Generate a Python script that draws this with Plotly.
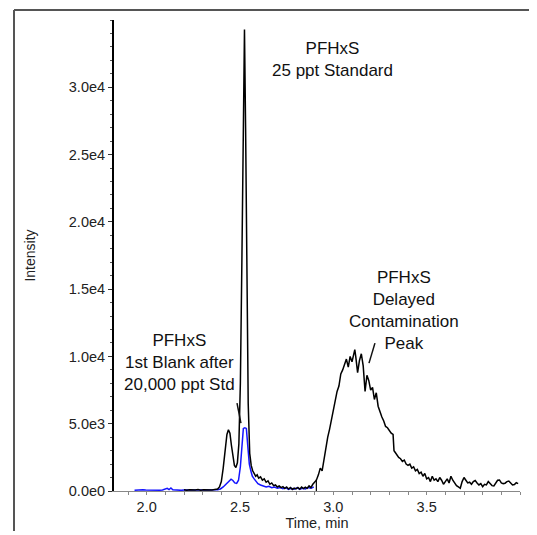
import plotly.graph_objects as go

# ---------------- data ----------------
# Blue trace: PFHxS, 1st blank after 20,000 ppt standard
blank_time = [1.935, 1.95, 1.965, 1.98, 1.995, 2.01, 2.025, 2.04, 2.055, 2.07, 2.085,
              2.10, 2.11, 2.12, 2.13, 2.14, 2.155, 2.17, 2.185, 2.20, 2.215, 2.23,
              2.245, 2.26, 2.275, 2.29, 2.305, 2.32, 2.335, 2.35, 2.365, 2.38, 2.395,
              2.41, 2.425, 2.44, 2.452, 2.462, 2.472, 2.482, 2.492, 2.502, 2.51,
              2.518, 2.526, 2.534, 2.542, 2.55, 2.558, 2.566, 2.576, 2.586, 2.596,
              2.61, 2.625, 2.64, 2.655, 2.67, 2.685, 2.70, 2.715, 2.73, 2.745, 2.76,
              2.775, 2.79, 2.805, 2.82, 2.835, 2.85, 2.865, 2.88, 2.895]
blank_int = [60, 80, 50, 90, 70, 60, 90, 50, 70, 60, 80,
             120, 200, 100, 220, 90, 60, 80, 50, 70, 60, 90,
             60, 70, 80, 60, 90, 70, 80, 60, 90, 100, 150,
             300, 500, 650, 880, 780, 600, 560, 800, 1800, 3500,
             4650, 4700, 4650, 3300, 2000, 1500, 1100, 900, 700, 550,
             450, 380, 300, 350, 250, 300, 200, 260, 180, 250, 120,
             200, 140, 230, 130, 200, 150, 250, 200, 300]

# Black trace: PFHxS 25 ppt standard followed by delayed contamination peak
std_time = [2.20, 2.215, 2.23, 2.245, 2.26, 2.275, 2.29, 2.305, 2.32, 2.335, 2.35,
            2.365, 2.38, 2.39, 2.40, 2.41, 2.42, 2.43, 2.438, 2.446, 2.454, 2.462,
            2.47, 2.478, 2.486, 2.494, 2.502, 2.51, 2.518, 2.524, 2.530, 2.537,
            2.544, 2.552, 2.56, 2.568, 2.576, 2.584, 2.592, 2.60, 2.61, 2.62, 2.63,
            2.64, 2.65, 2.66, 2.67, 2.68, 2.69, 2.70, 2.71, 2.72, 2.73, 2.74, 2.75,
            2.76, 2.77, 2.78, 2.79, 2.80, 2.81, 2.82, 2.83, 2.84, 2.85, 2.86, 2.87,
            2.88, 2.89, 2.90, 2.909, 2.92, 2.93, 2.94, 2.95, 2.96, 2.97, 2.98, 2.99,
            3.00, 3.01, 3.02, 3.03, 3.04, 3.05, 3.06, 3.07, 3.08, 3.09, 3.10, 3.11,
            3.115, 3.12, 3.13, 3.14, 3.15, 3.16, 3.17, 3.18, 3.19, 3.20, 3.21, 3.22,
            3.23, 3.24, 3.25, 3.26, 3.27, 3.28, 3.29, 3.30, 3.31, 3.32, 3.325, 3.33,
            3.34, 3.35, 3.36, 3.37, 3.38, 3.39, 3.40, 3.41, 3.42, 3.43, 3.44, 3.45,
            3.46, 3.47, 3.48, 3.49, 3.50, 3.51, 3.52, 3.53, 3.54, 3.55, 3.56, 3.57,
            3.58, 3.59, 3.60, 3.61, 3.62, 3.63, 3.64, 3.65, 3.66, 3.67, 3.68, 3.69,
            3.70, 3.71, 3.72, 3.73, 3.74, 3.75, 3.76, 3.77, 3.78, 3.79, 3.80, 3.81,
            3.82, 3.83, 3.84, 3.85, 3.86, 3.87, 3.88, 3.89, 3.90, 3.91, 3.92, 3.93,
            3.94, 3.95, 3.96, 3.97, 3.98, 3.99]
std_int = [90, 60, 100, 70, 80, 110, 60, 90, 80, 100, 70,
           110, 150, 300, 700, 1700, 3000, 4200, 4550, 4300, 3400, 2400,
           1900, 1750, 2100, 3500, 8000, 17000, 29000, 34300, 27000, 15000,
           6500, 2800, 1900, 1500, 1300, 1100, 1200, 950, 1050, 800, 900,
           650, 750, 500, 600, 400, 450, 300, 380, 250, 320, 180, 300,
           150, 260, 120, 220, 150, 260, 140, 300, 180, 280, 200, 380,
           250, 500, 650, 800, 1200, 1700, 1500, 2400, 3300, 4000, 4600, 5300,
           5900, 6800, 7400, 7800, 8700, 9000, 9400, 9800, 9200, 10000, 9600, 10400,
           10500, 10000, 8800, 9700, 10200, 9300, 7400, 8600, 8200, 7500, 7700, 6800,
           7300, 6300, 5800, 5500, 5200, 4800, 4700, 4500, 4300, 4200, 3000, 2900,
           2700, 2500, 2400, 2200, 2300, 2000, 1900, 2000, 1700, 1800, 1500, 1600,
           1300, 1400, 1100, 1300, 900, 1000, 700, 1100, 800, 900, 700, 1000,
           800, 500, 700, 900, 600, 1100, 800, 600, 400, 300, 200, 700,
           1000, 800, 600, 650, 500, 700, 780, 600, 450, 550, 320, 500,
           450, 700, 550, 400, 380, 650, 800, 820, 600, 550, 580, 700,
           740, 600, 450, 480, 620, 550]

# integration boundary marker drawn by the software
marker_time = [2.909, 2.909]
marker_int = [0, 850]

# cursor indicator on the y axis
cursor_time = [1.798]
cursor_int = [34150]

x_tickvals = [2.0, 2.5, 3.0, 3.5]
x_ticktext = ["2.0", "2.5", "3.0", "3.5"]
y_tickvals = [0, 5000, 10000, 15000, 20000, 25000, 30000]
y_ticktext = ["0.0e0", "5.0e3", "1.0e4", "1.5e4", "2.0e4", "2.5e4", "3.0e4"]

labels = ["PFHxS<br>25 ppt Standard",
          "PFHxS<br>Delayed<br>Contamination<br>Peak",
          "PFHxS<br>1st Blank after<br>20,000 ppt Std"]
label_time = [2.998, 3.378, 2.178]
label_int = [32100, 13450, 9550]

pointer_time = [[2.484, 2.505], [3.223, 3.191]]
pointer_int = [[6530, 5050], [10990, 9500]]

# ---------------- figure ----------------
# the page body has an 8px default margin; the figure is sized so that it fits
# the 537x535 window
FONT = "Liberation Sans, Arial, Helvetica, sans-serif"
ML, MT, PW, PH, MR, MB = 106, 12, 406, 471, 9, 40

fig = go.Figure()
fig.add_trace(go.Scatter(x=blank_time, y=blank_int, mode="lines",
                         line=dict(color="#1414ff", width=1.5),
                         name="1st Blank after 20,000 ppt Std", showlegend=False))
fig.add_trace(go.Scatter(x=std_time, y=std_int, mode="lines",
                         line=dict(color="#000000", width=1.5),
                         name="25 ppt Standard", showlegend=False))
fig.add_trace(go.Scatter(x=marker_time, y=marker_int, mode="lines",
                         line=dict(color="#000000", width=1.2),
                         showlegend=False, hoverinfo="skip"))
fig.add_trace(go.Scatter(x=cursor_time, y=cursor_int, mode="markers",
                         marker=dict(symbol="diamond", size=7, color="#1a1aff"),
                         cliponaxis=False, showlegend=False, hoverinfo="skip"))

for txt, tx, ty in zip(labels, label_time, label_int):
    fig.add_annotation(x=tx, y=ty, xref="x", yref="y", text=txt, showarrow=False,
                       align="center", font=dict(family=FONT, size=17, color="#111111"))

for px, py in zip(pointer_time, pointer_int):
    fig.add_shape(type="line", xref="x", yref="y", x0=px[0], y0=py[0], x1=px[1], y1=py[1],
                  line=dict(color="#111111", width=1.5))

# outer frame of the screenshot (left and top edges only are visible)
frame_left = (6 - ML) / PW
frame_top = (MT + PH - 2) / PH
frame_right = (PW + MR) / PW
frame_bottom = -(MB + 2) / PH
fig.add_shape(type="line", xref="paper", yref="paper",
              x0=frame_left, x1=frame_right, y0=frame_top, y1=frame_top,
              line=dict(color="#555555", width=2), layer="below")
fig.add_shape(type="line", xref="paper", yref="paper",
              x0=frame_left, x1=frame_left, y0=frame_bottom, y1=frame_top,
              line=dict(color="#555555", width=2), layer="below")

fig.update_layout(
    width=ML + PW + MR, height=MT + PH + MB,
    margin=dict(l=ML, r=MR, t=MT, b=MB),
    paper_bgcolor="white", plot_bgcolor="white",
    font=dict(family=FONT, size=14, color="#222222"),
    showlegend=False,
    xaxis=dict(range=[1.825, 4.0], showline=True, linecolor="#888888", linewidth=1,
               automargin=False,
               ticks="outside", ticklen=3, tickcolor="#888888",
               tickvals=x_tickvals, ticktext=x_ticktext,
               minor=dict(dtick=0.1, tick0=2.0, ticks="outside", ticklen=3, tickcolor="#888888"),
               showgrid=False, zeroline=False,
               tickfont=dict(size=14.5),
               title=dict(text="Time, min", font=dict(size=14.5), standoff=2)),
    yaxis=dict(range=[0, 35000], showline=True, linecolor="#000000", linewidth=2,
               automargin=False,
               ticks="outside", ticklen=4, tickcolor="#333333",
               tickvals=y_tickvals, ticktext=y_ticktext,
               minor=dict(dtick=1000, tick0=0, ticks="outside", ticklen=2, tickcolor="#555555"),
               showgrid=False, zeroline=False,
               tickfont=dict(size=14.5),
               title=dict(text="Intensity", font=dict(size=14), standoff=30)),
)

fig.write_html("out.html")
